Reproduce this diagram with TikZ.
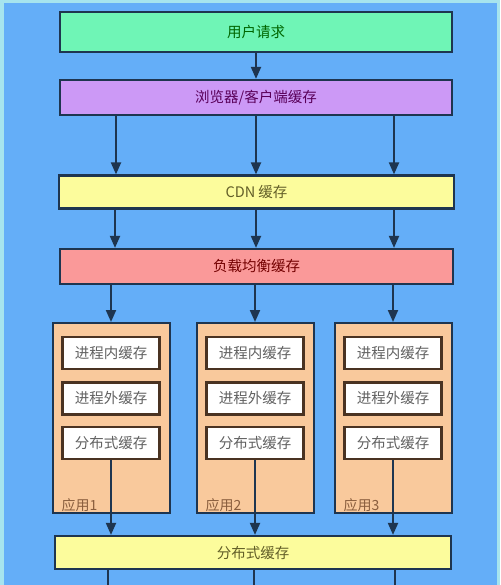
\documentclass[tikz,border=0pt]{standalone}
\usepackage{fontspec}
\setmainfont{Noto Sans CJK SC}
\usetikzlibrary{arrows.meta}
\definecolor{bgblue}{HTML}{64AEF8}
\definecolor{bgedge}{HTML}{A6E4EE}
\definecolor{edge}{HTML}{1E3550}
\definecolor{boxgreen}{HTML}{6FF5B6}
\definecolor{boxpurple}{HTML}{CC99F6}
\definecolor{boxyellow}{HTML}{FCFC9C}
\definecolor{boxred}{HTML}{FA9999}
\definecolor{boxpeach}{HTML}{F9C99C}
\definecolor{inneredge}{HTML}{4A3322}
\definecolor{labelbrown}{HTML}{8A5E3E}
\tikzset{
  layer/.style = {draw = edge, line width = 2.2pt, inner sep = 0pt,
    minimum width = 392pt, minimum height = 35pt, font = \fontsize{14.5}{17}\selectfont},
  appbox/.style = {draw = edge, line width = 2pt, fill = boxpeach, inner sep = 0pt,
    minimum width = 117pt, minimum height = 190pt},
  cachebox/.style = {draw = inneredge, line width = 2.2pt, fill = white, inner sep = 0pt,
    minimum width = 97pt, minimum height = 32pt, text = black!62,
    font = \fontsize{14.5}{17}\selectfont},
  applabel/.style = {anchor = south west, inner sep = 0pt, text = labelbrown,
    font = \fontsize{14}{16}\selectfont},
  arr/.style = {draw = edge, line width = 2pt, -{Triangle[length = 12pt, width = 10pt]}},
  plain/.style = {draw = edge, line width = 2pt}
}
\begin{document}
\begin{tikzpicture}[x = 1pt, y = -1pt]
\useasboundingbox (0,0) rectangle (500,585);
\fill[bgedge] (0,0) rectangle (500,585);
\fill[bgblue] (4,3) rectangle (497,585);
% layers
\node[layer, fill = boxgreen, text = green!40!black, minimum height = 40pt] (user) at (256,32) {用户请求};
\node[layer, fill = boxpurple, text = violet!70!black] (browser) at (256,97.5) {浏览器/客户端缓存};
\node[layer, fill = boxyellow, text = olive!60!black, minimum width = 395pt, minimum height = 33pt] (cdn) at (256.5,192) {CDN 缓存};
\node[layer, fill = boxred, text = red!45!black, minimum width = 393pt] (lb) at (256.5,266.5) {负载均衡缓存};
% applications
\foreach \i/\x in {1/111, 2/255, 3/393} {
  \node[appbox] (app\i) at (\x,418) {};
  \node[cachebox] (inproc\i) at (\x,353) {进程内缓存};
  \node[cachebox] (outproc\i) at (\x,398.5) {进程外缓存};
  \node[cachebox] (dcache\i) at (\x,443) {分布式缓存};
  \node[applabel] (label\i) at ([xshift = 10pt, yshift = 2pt]app\i.south west) {应用\i};
}
\node[layer, fill = boxyellow, text = olive!60!black, minimum width = 396pt, minimum height = 33pt] (dist) at (253,552.5) {分布式缓存};
% connectors
\draw[arr] (user) -- (browser);
\foreach \x in {116, 256, 394}
  \draw[arr] (browser.south -| \x,0) -- (cdn.north -| \x,0);
\foreach \x in {115, 256, 394}
  \draw[arr] (cdn.south -| \x,0) -- (lb.north -| \x,0);
\foreach \i in {1,2,3} {
  \draw[arr] (lb.south -| app\i) -- (app\i);
  \draw[arr] (dcache\i) -- (dcache\i |- dist.north);
}
\foreach \x/\n in {108/1, 254/2, 395/3} {
  \coordinate (out\n) at (\x,585);
  \draw[plain] (dist.south -| out\n) -- (out\n);
}
\end{tikzpicture}
\end{document}
